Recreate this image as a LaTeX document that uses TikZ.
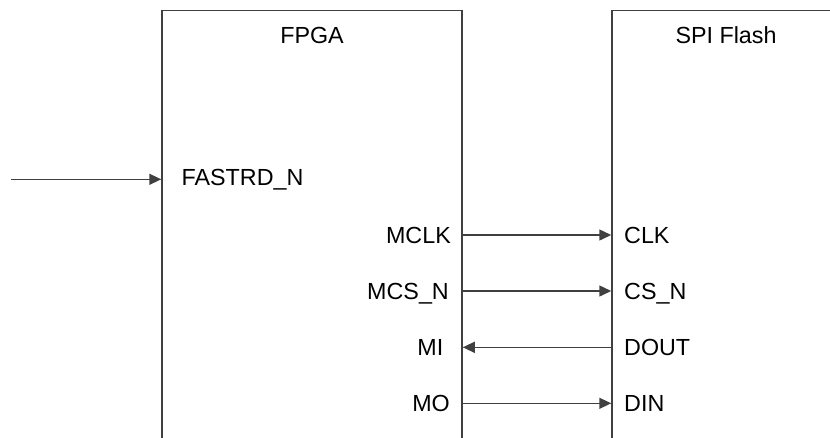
\documentclass[tikz,border=0pt]{standalone}
\usepackage{fontspec}
\setmainfont{Liberation Sans}
\usetikzlibrary{arrows.meta}
\definecolor{linegray}{HTML}{404040}
\begin{document}
\begin{tikzpicture}[x=1pt,y=-1pt,
  box/.style={draw=linegray,line width=1.5pt,rectangle,inner sep=0,minimum width=300pt,minimum height=520pt},
  lbl/.style={inner sep=0,font=\fontsize{23.3}{28}\selectfont,text=black},
  sig/.style={draw=linegray,line width=1.5pt,-{Triangle[length=12pt,width=11pt]}}]
\path[use as bounding box] (0,0) rectangle (830,437);
\clip (0,0) rectangle (830,437);
\node[box] (fpga) at (312,270.5) {};
\node[box] (spi) at (762,270.5) {};
\node[lbl,anchor=base] (fpgat) at (312,43.3) {FPGA};
\node[lbl,anchor=base] (spit) at (726,43.3) {SPI Flash};
% FPGA pins
\node[lbl,anchor=base west] (fastrd) at (181.5,185.5) {FASTRD\_N};
\node[lbl,anchor=base east] (mclk) at (451,243.5) {MCLK};
\node[lbl,anchor=base east] (mcsn) at (449,299.5) {MCS\_N};
\node[lbl,anchor=base east] (mi) at (443.5,355.5) {MI};
\node[lbl,anchor=base east] (mo) at (450,411.5) {MO};
% Flash pins
\node[lbl,anchor=base west] (clk) at (624,243.5) {CLK};
\node[lbl,anchor=base west] (csn) at (624,299.5) {CS\_N};
\node[lbl,anchor=base west] (dout) at (624,355.5) {DOUT};
\node[lbl,anchor=base west] (din) at (624,411.5) {DIN};
% signals
\coordinate (ext) at (10.5,179.3);
\draw[sig] (ext) -- (fpga.west |- ext);
\coordinate (pclk) at (462,235);
\coordinate (pcs) at (462,291);
\coordinate (pmi) at (462,347.3);
\coordinate (pmo) at (462,403.3);
\draw[sig] (fpga.east |- pclk) -- (spi.west |- pclk);
\draw[sig] (fpga.east |- pcs) -- (spi.west |- pcs);
\draw[sig] (spi.west |- pmi) -- (fpga.east |- pmi);
\draw[sig] (fpga.east |- pmo) -- (spi.west |- pmo);
\end{tikzpicture}
\end{document}
